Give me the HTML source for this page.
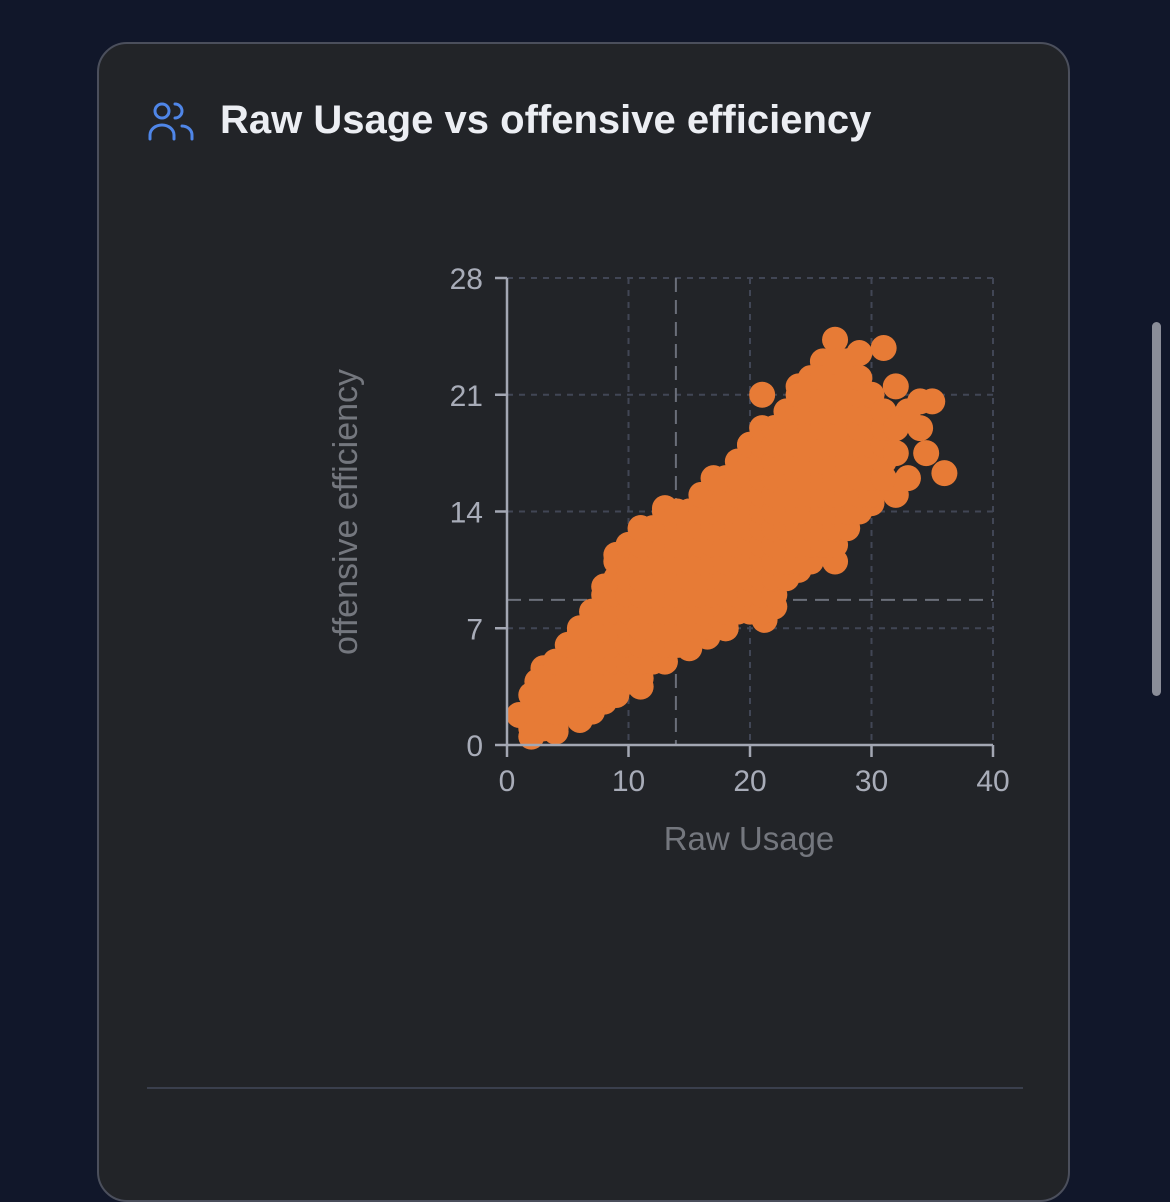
<!DOCTYPE html>
<html><head><meta charset="utf-8">
<style>
html,body{margin:0;padding:0;width:1170px;height:1160px;overflow:hidden;background:#11172a;font-family:"Liberation Sans",sans-serif;}
.card{position:absolute;left:97px;top:42px;width:973px;height:1160px;background:#222428;border:2px solid #4b4f5c;border-radius:30px;box-sizing:border-box;}
.title{position:absolute;left:220px;top:98px;font-size:40px;color:#eceef3;font-weight:bold;letter-spacing:0px;}
.sep{position:absolute;left:147px;top:1087px;width:876px;height:2px;background:#3a3f4d;}
.scroll{position:absolute;left:1152px;top:322px;width:9px;height:374px;background:#8a8d98;border-radius:5px;}
svg{position:absolute;left:0;top:0;}
</style></head>
<body>
<div class="card"></div>
<svg width="60" height="60" style="left:142px;top:96px">
<g fill="none" stroke="#4f86e8" stroke-width="3" stroke-linecap="round">
<circle cx="20" cy="15" r="7"/>
<path d="M8 43 v-4 a12 10 0 0 1 24 0 v4"/>
<path d="M33 8 a7 7 0 0 1 0 14"/>
<path d="M40 30 a10 9 0 0 1 10 9 v4"/>
</g></svg>
<div class="title">Raw Usage vs offensive efficiency</div>
<div class="sep"></div>
<div class="scroll"></div>
<svg id="chart" width="1170" height="1160"></svg>
<script>
const xTicks=[0,10,20,30,40];
const yTicks=[0,7,14,21,28];
const refX=[13.9];
const refY=[8.7];
const points=[
[1,1.8],[2,0.5],[4,0.8],[6,1.5],[8,2.6],[10,3.8],[11,3.5],[13,5.5],[15,5.8],[16.5,6.5],[18,7],[21.2,7.5],[22,8.3],[24,10.5],[27,11],[30,14.5],[32,15],[33,16],[36,16.3],[34.5,17.5],[34,19],[35,20.6],[34,20.6],[33,20],[31,23.8],[32,21.5],[27,24.3],[26,23],[28,23],[21,21],[22,19],[24,21.5],[20,18],[19,16.5],[18,15.5],[15,14],[13,14.2],[11,13],[9,11.4],[8,9.5],[6,6.8],[3,4.6],[2.5,3.8],[29,23.5],
[2,1],[2,2],[2,3],[3,1],[3,2],[3,3],[3,4],[4,1],[4,2],[4,3],[4,4],[4,5],
[5,2],[5,3],[5,4],[5,5],[5,6],[6,2],[6,3],[6,4],[6,5],[6,6],[6,7],
[7,2],[7,3],[7,4],[7,5],[7,6],[7,7],[7,8],[8,3],[8,4],[8,5],[8,6],[8,7],[8,8],[8,9],
[9,3],[9,4],[9,5],[9,6],[9,7],[9,8],[9,9],[9,10],[9,11],
[10,4],[10,5],[10,6],[10,7],[10,8],[10,9],[10,10],[10,11],[10,12],
[11,4],[11,5],[11,6],[11,7],[11,8],[11,9],[11,10],[11,11],[11,12],[11,13],
[12,5],[12,6],[12,7],[12,8],[12,9],[12,10],[12,11],[12,12],[12,13],
[13,5],[13,6],[13,7],[13,8],[13,9],[13,10],[13,11],[13,12],[13,13],[13,14],
[14,6],[14,7],[14,8],[14,9],[14,10],[14,11],[14,12],[14,13],[14,14],
[15,6],[15,7],[15,8],[15,9],[15,10],[15,11],[15,12],[15,13],[15,14],
[16,7],[16,8],[16,9],[16,10],[16,11],[16,12],[16,13],[16,14],[16,15],
[17,7],[17,8],[17,9],[17,10],[17,11],[17,12],[17,13],[17,14],[17,15],[17,16],
[18,7],[18,8],[18,9],[18,10],[18,11],[18,12],[18,13],[18,14],[18,15],[18,16],
[19,8],[19,9],[19,10],[19,11],[19,12],[19,13],[19,14],[19,15],[19,16],[19,17],
[20,8],[20,9],[20,10],[20,11],[20,12],[20,13],[20,14],[20,15],[20,16],[20,17],[20,18],
[21,8],[21,9],[21,10],[21,11],[21,12],[21,13],[21,14],[21,15],[21,16],[21,17],[21,18],[21,19],
[22,9],[22,10],[22,11],[22,12],[22,13],[22,14],[22,15],[22,16],[22,17],[22,18],[22,19],
[23,10],[23,11],[23,12],[23,13],[23,14],[23,15],[23,16],[23,17],[23,18],[23,19],[23,20],
[24,11],[24,12],[24,13],[24,14],[24,15],[24,16],[24,17],[24,18],[24,19],[24,20],[24,21],
[25,11],[25,12],[25,13],[25,14],[25,15],[25,16],[25,17],[25,18],[25,19],[25,20],[25,21],[25,22],
[26,12],[26,13],[26,14],[26,15],[26,16],[26,17],[26,18],[26,19],[26,20],[26,21],[26,22],
[27,12],[27,13],[27,14],[27,15],[27,16],[27,17],[27,18],[27,19],[27,20],[27,21],[27,22],[27,23],
[28,13],[28,14],[28,15],[28,16],[28,17],[28,18],[28,19],[28,20],[28,21],[28,22],[28,23],
[29,14],[29,15],[29,16],[29,17],[29,18],[29,19],[29,20],[29,21],[29,22],
[30,15],[30,16],[30,17],[30,18],[30,19],[30,20],[30,21],[31,16],[31,17],[31,18],[31,19],[31,20],[32,19],[32,17.5]
];
const NS='http://www.w3.org/2000/svg';
const svg=document.getElementById('chart');
const X0=507,X1=993,Y0=745,Y1=278;
const sx=v=>X0+(v-0)/(40-0)*(X1-X0);
const sy=v=>Y0-(v-0)/(28-0)*(Y0-Y1);
function mk(t,a,p){const e=document.createElementNS(NS,t);for(const k in a)e.setAttribute(k,a[k]);(p||svg).appendChild(e);return e;}
xTicks.forEach(t=>{if(t===0)return;
const g=mk('line',{x1:sx(t),x2:sx(t),y1:Y1,y2:Y0,stroke:'#414655','stroke-width':2,'stroke-dasharray':'6 6'});

});
yTicks.forEach(t=>{if(t===0)return;
const g=mk('line',{x1:X0,x2:X1,y1:sy(t),y2:sy(t),stroke:'#414655','stroke-width':2,'stroke-dasharray':'6 6'});

});
refX.forEach(v=>{const r=mk('line',{x1:sx(v),x2:sx(v),y1:Y1,y2:Y0,stroke:'#6b6f7a','stroke-width':2,'stroke-dasharray':'14 8'});

});
refY.forEach(v=>{const r=mk('line',{x1:X0,x2:X1,y1:sy(v),y2:sy(v),stroke:'#6b6f7a','stroke-width':2,'stroke-dasharray':'14 8'});

});
points.forEach(p=>{const c=mk('circle',{cx:sx(p[0]),cy:sy(p[1]),r:13,fill:'#e77b36'});

});
const ax=mk('line',{x1:X0,x2:X1,y1:Y0,y2:Y0,stroke:'#a3a7b3','stroke-width':2.5});


const ay=mk('line',{x1:X0,x2:X0,y1:Y1,y2:Y0,stroke:'#a3a7b3','stroke-width':2.5});


xTicks.forEach(t=>{mk('line',{x1:sx(t),x2:sx(t),y1:Y0,y2:Y0+12,stroke:'#a3a7b3','stroke-width':2.5});
const l=mk('text',{x:sx(t),y:Y0+46,'text-anchor':'middle','font-size':30,fill:'#a8acb8','font-family':'Liberation Sans, sans-serif'});
l.textContent=t;

});
yTicks.forEach(t=>{mk('line',{x1:X0-12,x2:X0,y1:sy(t),y2:sy(t),stroke:'#a3a7b3','stroke-width':2.5});
const l=mk('text',{x:X0-24,y:sy(t)+11,'text-anchor':'end','font-size':30,fill:'#a8acb8','font-family':'Liberation Sans, sans-serif'});
l.textContent=t;

});
const xl=mk('text',{x:749,y:850,'text-anchor':'middle','font-size':33,fill:'#74777e','font-family':'Liberation Sans, sans-serif'});
xl.textContent='Raw Usage';


const yl=mk('text',{x:0,y:0,'text-anchor':'middle','font-size':34,fill:'#74777e','font-family':'Liberation Sans, sans-serif',transform:'translate(357,512) rotate(-90)'});
yl.textContent='offensive efficiency';


</script>
</body></html>
